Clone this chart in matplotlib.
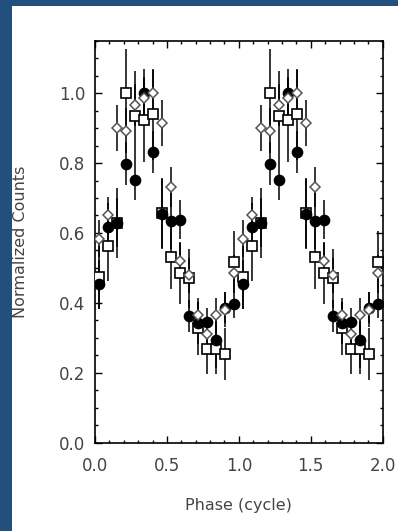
import numpy as np
import matplotlib
matplotlib.use("Agg")
import matplotlib.pyplot as plt
from matplotlib.patches import Rectangle
from matplotlib.ticker import MultipleLocator

# 16 phase bins (one cycle), repeated for two cycles
phase_bins = (np.arange(16) + 0.5) / 16.0

circle_y = [0.453, 0.616, 0.629, 0.798, 0.751, 1.000, 0.831, 0.653,
            0.634, 0.638, 0.362, 0.343, 0.345, 0.293, 0.386, 0.396]
circle_err = [0.070, 0.070, 0.070, 0.062, 0.058, 0.070, 0.060, 0.100,
              0.080, 0.055, 0.045, 0.060, 0.040, 0.080, 0.045, 0.040]

square_y = [0.473, 0.563, 0.629, 1.001, 0.936, 0.924, 0.939, 0.658,
            0.531, 0.486, 0.470, 0.327, 0.267, 0.267, 0.253, 0.517]
square_err = [0.090, 0.100, 0.100, 0.126, 0.126, 0.120, 0.130, 0.100,
              0.090, 0.088, 0.085, 0.075, 0.070, 0.070, 0.075, 0.090]

diamond_y = [0.584, 0.651, 0.900, 0.893, 0.965, 0.987, 1.001, 0.914,
             0.731, 0.520, 0.479, 0.365, 0.311, 0.365, 0.380, 0.486]
diamond_err = [0.054, 0.052, 0.065, 0.065, 0.060, 0.060, 0.065, 0.065,
               0.058, 0.050, 0.050, 0.050, 0.050, 0.050, 0.050, 0.050]

x_ticks = [0.0, 0.5, 1.0, 1.5, 2.0]
y_ticks = [0.0, 0.2, 0.4, 0.6, 0.8, 1.0]


def two_cycles(v):
    return np.concatenate([np.asarray(v), np.asarray(v)])


phase = np.concatenate([phase_bins, phase_bins + 1.0])

W, H = 398, 531
fig = plt.figure(figsize=(W / 100, H / 100), dpi=100)
fig.patch.set_facecolor("#21507f")
fig.patches.append(Rectangle((12 / W, 0), 1, (H - 6) / H, transform=fig.transFigure,
                             facecolor="white", edgecolor="none", zorder=-5))

ax = fig.add_axes([95 / W, (H - 442.7) / H, (382.7 - 95) / W, (442.7 - 40.7) / H])
ax.set_zorder(5)
ax.set_facecolor("white")

bar_kw = dict(fmt="none", ecolor="black", elinewidth=1.1, capsize=0, zorder=2)
ax.errorbar(phase, two_cycles(square_y), yerr=two_cycles(square_err), **bar_kw)
ax.errorbar(phase, two_cycles(circle_y), yerr=two_cycles(circle_err), **bar_kw)
ax.errorbar(phase, two_cycles(diamond_y), yerr=two_cycles(diamond_err), **bar_kw)

ax.plot(phase, two_cycles(square_y), linestyle="none", marker="s", markersize=7.2,
        markerfacecolor="white", markeredgecolor="black", markeredgewidth=1.2, zorder=3)
ax.plot(phase, two_cycles(circle_y), linestyle="none", marker="o", markersize=7.4,
        markerfacecolor="black", markeredgecolor="black", zorder=4)
ax.plot(phase, two_cycles(diamond_y), linestyle="none", marker="D", markersize=5.0,
        markerfacecolor="white", markeredgecolor="#555555", markeredgewidth=1.1, zorder=5)

ax.set_xlim(0, 2.0)
ax.set_ylim(0, 1.15)
ax.set_xticks(x_ticks)
ax.set_yticks(y_ticks)
ax.set_xticklabels([f"{t:.1f}" for t in x_ticks])
ax.set_yticklabels([f"{t:.1f}" for t in y_ticks])
ax.xaxis.set_minor_locator(MultipleLocator(0.1))
ax.yaxis.set_minor_locator(MultipleLocator(0.05))
ax.tick_params(which="both", direction="in", top=True, right=True, color="black",
               labelsize=12, labelcolor="#444444")
ax.tick_params(axis="x", which="major", length=5, width=1.0, pad=10)
ax.tick_params(axis="y", which="major", length=5, width=1.0, pad=7)
ax.tick_params(which="minor", length=2.5, width=1.0)
for s in ax.spines.values():
    s.set_linewidth(1.2)
    s.set_color("black")

ax.set_xlabel("Phase (cycle)", fontsize=11.5, color="#444444", labelpad=17)
ax.set_ylabel("Normalized Counts", fontsize=11.5, color="#444444", labelpad=22)

fig.savefig("out.png", dpi=100, facecolor=fig.get_facecolor())
